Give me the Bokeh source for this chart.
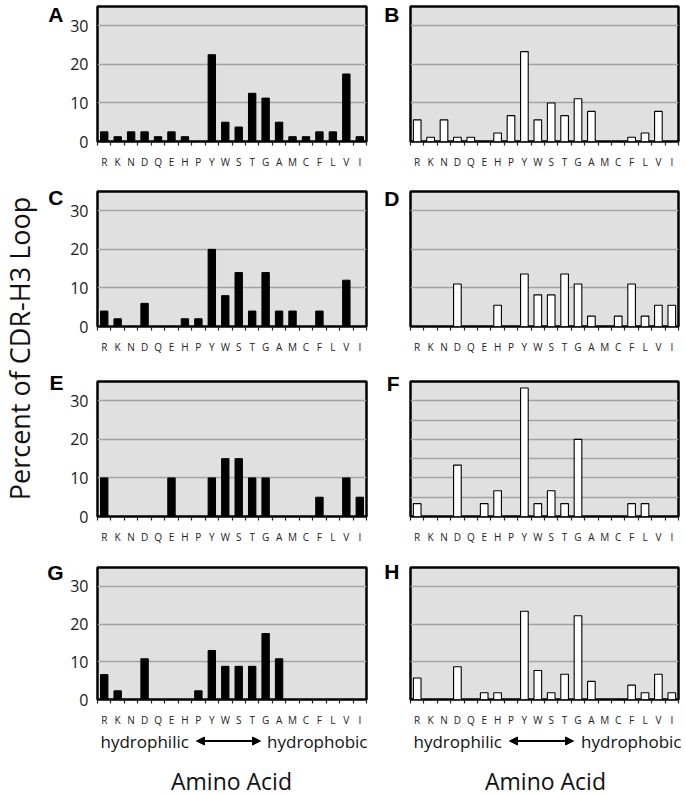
import math
from bokeh.plotting import figure
from bokeh.models import (FixedTicker, Range1d, Arrow, NormalHead, ColumnDataSource,
                          LinearAxis)
from bokeh.layouts import row, column
from bokeh.embed import file_html
from bokeh.resources import INLINE
from bokeh.core.properties import value

# ---------------- data ----------------
amino_acids = ["R", "K", "N", "D", "Q", "E", "H", "P", "Y", "W",
               "S", "T", "G", "A", "M", "C", "F", "L", "V", "I"]

panel_a = [2.5, 1.25, 2.5, 2.5, 1.25, 2.5, 1.25, 0, 22.5, 5.0,
           3.75, 12.5, 11.25, 5.0, 1.25, 1.25, 2.5, 2.5, 17.5, 1.25]
panel_b = [5.6, 1.1, 5.6, 1.1, 1.1, 0, 2.2, 6.7, 23.3, 5.6,
           10.0, 6.7, 11.1, 7.8, 0, 0, 1.1, 2.2, 7.8, 0]
panel_c = [4, 2, 0, 6, 0, 0, 2, 2, 20, 8,
           14, 4, 14, 4, 4, 0, 4, 0, 12, 0]
panel_d = [0, 0, 0, 11.0, 0, 0, 5.5, 0, 13.6, 8.2,
           8.2, 13.6, 11.0, 2.7, 0, 2.7, 11.0, 2.7, 5.5, 5.5]
panel_e = [10, 0, 0, 0, 0, 10, 0, 0, 10, 15,
           15, 10, 10, 0, 0, 0, 5, 0, 10, 5]
panel_f = [3.33, 0, 0, 13.33, 0, 3.33, 6.67, 0, 33.33, 3.33,
           6.67, 3.33, 20.0, 0, 0, 0, 3.33, 3.33, 0, 0]
panel_g = [6.6, 2.3, 0, 10.8, 0, 0, 0, 2.3, 13.0, 8.8,
           8.8, 8.8, 17.5, 10.8, 0, 0, 0, 0, 0, 0]
panel_h = [5.7, 0, 0, 8.7, 0, 1.8, 1.8, 0, 23.4, 7.7,
           1.8, 6.7, 22.2, 4.8, 0, 0, 3.8, 1.8, 6.7, 1.8]

y_ticks_left = [0, 10, 20, 30]
grid_std = [10, 20, 30]
grid_f = [5, 10, 15, 20, 25, 30]

FONT = "Open Sans"
FRAME_H = 135
Y_MAX = 35
BG = "#e0e0e0"
GRID = "#a3a3a3"


def style_letter_axis(ax, letter, ly, standoff):
    ax.ticker = FixedTicker(ticks=[ly])
    ax.major_label_overrides = {ly: letter}
    ax.axis_line_color = None
    ax.major_tick_out = 0
    ax.major_tick_in = 0
    ax.minor_tick_out = 0
    ax.minor_tick_in = 0
    ax.major_label_standoff = standoff
    ax.major_label_text_font = "Liberation Sans"
    ax.major_label_text_font_size = "21px"
    ax.major_label_text_font_style = "bold"
    ax.major_label_text_color = "black"


def panel(vals, letter, left, top_b, bot_b, grid_ticks, letter_dy):
    width = 332 if left else 314
    mbl = 57 if left else 38
    mbr = 6 if left else 8
    p = figure(width=width, height=top_b + FRAME_H + bot_b,
               x_range=Range1d(-0.5, 19.5), y_range=Range1d(0, Y_MAX),
               output_backend="svg", toolbar_location=None,
               min_border_left=mbl, min_border_right=mbr,
               min_border_top=top_b, min_border_bottom=bot_b)
    p.background_fill_color = BG
    p.border_fill_color = "white"
    p.outline_line_color = "black"
    p.outline_line_width = 2.5

    src = ColumnDataSource(dict(x=list(range(len(amino_acids))), top=vals))
    if left:
        p.vbar(x="x", top="top", bottom=0, width=0.55, source=src,
               fill_color="black", line_color="black", line_width=1)
    else:
        p.vbar(x="x", top="top", bottom=0, width=0.57, source=src,
               fill_color="white", line_color="black", line_width=1.1)

    p.xgrid.visible = False
    p.ygrid.ticker = FixedTicker(ticks=grid_ticks)
    p.ygrid.grid_line_color = GRID
    p.ygrid.grid_line_width = 1.5

    xa = p.xaxis[0]
    xa.ticker = FixedTicker(ticks=list(range(len(amino_acids))),
                            minor_ticks=[i - 0.5 for i in range(len(amino_acids) + 1)])
    xa.major_label_overrides = {i: a for i, a in enumerate(amino_acids)}
    xa.major_tick_out = 0
    xa.major_tick_in = 0
    xa.minor_tick_out = 4
    xa.minor_tick_in = 0
    xa.minor_tick_line_color = "#222222"
    xa.minor_tick_line_width = 1.2
    xa.axis_line_color = None
    xa.major_label_standoff = 9
    xa.major_label_text_font = FONT
    xa.major_label_text_font_size = "10px"
    xa.major_label_text_color = "#222222"

    ly = round(Y_MAX - letter_dy * Y_MAX / FRAME_H, 2)
    ya = p.yaxis[0]
    if left:
        ya.ticker = FixedTicker(ticks=y_ticks_left)
        ya.major_tick_out = 0
        ya.major_tick_in = 0
        ya.minor_tick_out = 0
        ya.minor_tick_in = 0
        ya.axis_line_color = None
        ya.major_label_standoff = 9
        ya.major_label_text_font = FONT
        ya.major_label_text_font_size = "16px"
        ya.major_label_text_color = "#1a1a1a"
        # panel letter: an extra left axis whose only tick label is the letter
        la = LinearAxis()
        style_letter_axis(la, letter, ly, 4)
        p.add_layout(la, "left")
    else:
        style_letter_axis(ya, letter, ly, 11)
    return p


pa = panel(panel_a, "A", True, 6, 39, grid_std, 8)
pb = panel(panel_b, "B", False, 6, 39, grid_std, 8)
pc = panel(panel_c, "C", True, 11, 44, grid_std, 6)
pd = panel(panel_d, "D", False, 11, 44, grid_std, 7)
pe = panel(panel_e, "E", True, 11, 40, grid_std, 1)
pf = panel(panel_f, "F", False, 11, 40, grid_f, 1.5)
pg = panel(panel_g, "G", True, 11, 27, grid_std, 5)
ph = panel(panel_h, "H", False, 11, 27, grid_std, 4.5)

rows_h = 180 + 190 + 186 + 173

# y-axis title figure
yt = figure(width=40, height=rows_h, x_range=Range1d(0, 40), y_range=Range1d(0, rows_h),
            x_axis_type=None, y_axis_type=None, output_backend="svg",
            toolbar_location=None, min_border_left=0, min_border_right=0,
            min_border_top=0, min_border_bottom=0)
yt.grid.visible = False
yt.outline_line_color = None
yt.text(x=[19], y=[rows_h - 348], text=["Percent of CDR-H3 Loop"], angle=math.pi / 2,
        text_align="center", text_baseline="middle",
        text_font=value(FONT), text_font_size="27px", text_color="#111111")

# bottom annotation figure
BH = 795 - rows_h
bt = figure(width=686, height=BH, x_range=Range1d(0, 686), y_range=Range1d(0, BH),
            x_axis_type=None, y_axis_type=None, output_backend="svg",
            toolbar_location=None, min_border_left=0, min_border_right=0,
            min_border_top=0, min_border_bottom=0)
bt.grid.visible = False
bt.outline_line_color = None

col_left = [100, 413]      # left edge of "hydrophilic" per column
col_right = [367, 681]     # right edge of "hydrophobic" per column
col_mid = [231, 545]       # centre of "Amino Acid" per column
arrow_x = [(196, 260), (509, 573)]
y_hyd = 795 - 740.5
y_amino = 795 - 780
bt.text(x=col_left, y=[y_hyd, y_hyd], text=["hydrophilic", "hydrophilic"],
        text_align="left", text_baseline="middle",
        text_font=value(FONT), text_font_size="17px", text_color="#111111")
bt.text(x=col_right, y=[y_hyd, y_hyd], text=["hydrophobic", "hydrophobic"],
        text_align="right", text_baseline="middle",
        text_font=value(FONT), text_font_size="17px", text_color="#111111")
bt.text(x=col_mid, y=[y_amino, y_amino], text=["Amino Acid", "Amino Acid"],
        text_align="center", text_baseline="middle",
        text_font=value(FONT), text_font_size="23px", text_color="#111111")
for xs, xe in arrow_x:
    bt.add_layout(Arrow(start=NormalHead(size=8, fill_color="black", line_color="black"),
                        end=NormalHead(size=8, fill_color="black", line_color="black"),
                        x_start=xs, y_start=y_hyd, x_end=xe, y_end=y_hyd,
                        line_width=2, line_color="black"))

grid = column(row(pa, pb), row(pc, pd), row(pe, pf), row(pg, ph))
layout = column(row(yt, grid), bt)

open("out.html", "w").write(file_html(layout, INLINE))
